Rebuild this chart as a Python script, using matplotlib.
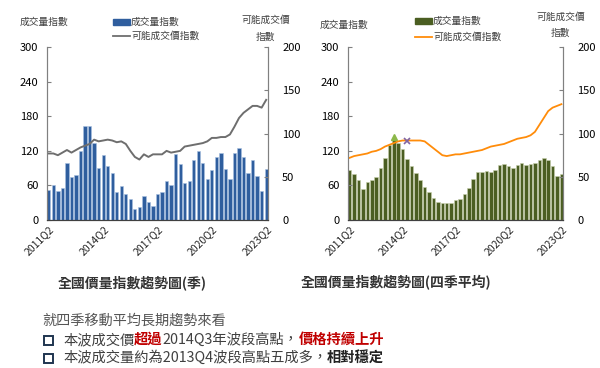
import matplotlib
matplotlib.use('Agg')
import matplotlib.pyplot as plt
import numpy as np

plt.rcParams['font.family'] = ['Noto Sans CJK TC', 'DejaVu Sans']

# quarters 2011Q2 .. 2023Q2
quarters = ['%dQ%d' % (2011 + (i + 1) // 4, (i + 1) % 4 + 1) for i in range(49)]
tick_idx = [0, 12, 24, 36, 48]

# quarterly volume index (left chart)
vol_q = [52, 61, 51, 55, 99, 74, 79, 119, 164, 163, 134, 91, 112, 94, 82, 48, 59,
         46, 36, 20, 23, 42, 32, 24, 46, 49, 67, 60, 115, 97, 65, 67, 104, 119, 99,
         72, 86, 109, 117, 89, 71, 116, 125, 110, 81, 105, 77, 50, 89]
# quarterly possible price index (left chart)
price_q = [77, 77, 75, 78, 81, 78, 81, 84, 86, 88, 93, 91, 92, 93, 92, 90, 91, 88,
           80, 73, 70, 76, 73, 76, 76, 76, 80, 78, 79, 80, 85, 86, 87, 88, 89, 91,
           95, 95, 96, 96, 99, 108, 118, 124, 128, 132, 132, 130, 139]

# four-quarter moving average (right chart)
vol_avg = [86, 80, 70, 54, 66, 69, 75, 91, 107, 130, 139, 134, 123, 106, 94, 82,
           70, 58, 48, 39, 31, 30, 29, 29, 35, 37, 46, 55, 71, 83, 83, 85, 83, 87,
           95, 97, 93, 90, 95, 99, 96, 98, 99, 105, 107, 104, 93, 77, 80]
price_avg = [72, 74, 75, 76, 77, 79, 80, 82, 85, 87, 89, 91, 92, 92, 92, 92, 92,
             91, 87, 83, 79, 75, 74, 75, 76, 76, 77, 78, 79, 80, 81, 83, 85, 86, 87,
             88, 90, 92, 94, 95, 96, 98, 102, 110, 118, 126, 130, 132, 134]
peak_vol = 10     # 2013Q4
peak_price = 13   # 2014Q3

txt = '#404040'
fig = plt.figure(figsize=(6, 3.68), dpi=100)
x = np.arange(len(quarters))


def setup(ax, ax2):
    ax.set_xlim(-0.45, 48.45)
    ax.set_ylim(0, 300)
    ax.set_yticks(range(0, 301, 60))
    ax2.set_ylim(0, 200)
    ax2.set_yticks(range(0, 201, 50))
    ax.set_xticks(tick_idx)
    ax.set_xticklabels([quarters[i] for i in tick_idx], rotation=45, ha='right',
                       va='top', rotation_mode='anchor', fontsize=7.5, color='#262626')
    for a in (ax, ax2):
        a.spines['top'].set_visible(False)
        a.spines['left'].set_color('#808080')
        a.spines['right'].set_color('#808080')
        a.spines['bottom'].set_color('#404040')
        a.tick_params(axis='y', direction='in', length=3, color='#808080',
                      labelsize=8, labelcolor='black', pad=6)
    ax.tick_params(axis='x', direction='in', length=0, pad=3)
    ax2.tick_params(axis='y', pad=10)


# left chart
ax1 = fig.add_axes([0.078, 0.402, 0.369, 0.47])
ax1b = ax1.twinx()
ax1.bar(x, vol_q, width=0.72, color='#2f5e9e', edgecolor='#a9c0e0', linewidth=0.4)
ax1b.plot(x, price_q, color='#6e6e6e', lw=1.4)
setup(ax1, ax1b)

# right chart
ax2 = fig.add_axes([0.5795, 0.402, 0.3595, 0.47])
ax2b = ax2.twinx()
ax2.bar(x, vol_avg, width=0.8, color='#4b5e22', edgecolor='#c9d1ad', linewidth=0.4)
ax2.plot(peak_vol, vol_avg[peak_vol] + 5, marker='^', color='#8cb84a', ms=5)
ax2b.plot(x, price_avg, color='#ff8c0a', lw=1.3)
ax2b.plot(peak_price, price_avg[peak_price], marker='x', color='#8064a2', ms=5, mew=1.2)
setup(ax2, ax2b)

# axis captions and legends
fs = 7
fig.text(44 / 600, 1 - 22 / 368, '成交量指數', fontsize=fs, color=txt, ha='center', va='center')
fig.text(266 / 600, 1 - 20 / 368, '可能成交價', fontsize=fs, color=txt, ha='center', va='center')
fig.text(266 / 600, 1 - 37 / 368, '指數', fontsize=fs, color=txt, ha='center', va='center')
fig.text(344 / 600, 1 - 25 / 368, '成交量指數', fontsize=fs, color=txt, ha='center', va='center')
fig.text(561 / 600, 1 - 17 / 368, '可能成交價', fontsize=fs, color=txt, ha='center', va='center')
fig.text(561 / 600, 1 - 33 / 368, '指數', fontsize=fs, color=txt, ha='center', va='center')

for lx, ly, col, kind, lab in [(113, 22, '#2f5e9e', 'bar', '成交量指數'),
                               (113, 36, '#6e6e6e', 'line', '可能成交價指數'),
                               (415, 21, '#4b5e22', 'bar', '成交量指數'),
                               (415, 37, '#ff8c0a', 'line', '可能成交價指數')]:
    if kind == 'bar':
        fig.patches.append(plt.Rectangle((lx / 600, 1 - (ly + 3) / 368), 17 / 600, 6 / 368,
                                         transform=fig.transFigure, color=col))
    else:
        fig.lines.append(plt.Line2D([lx / 600, (lx + 17) / 600], [1 - ly / 368] * 2,
                                    transform=fig.transFigure, color=col, lw=1.3))
    fig.text((lx + 18) / 600, 1 - ly / 368, lab, fontsize=fs, color=txt, va='center')

# chart titles
fig.text(132 / 600, 1 - 283 / 368, '全國價量指數趨勢圖(季)', fontsize=10,
         fontweight='bold', color='#333333', ha='center', va='center')
fig.text(396 / 600, 1 - 283 / 368, '全國價量指數趨勢圖(四季平均)', fontsize=10,
         fontweight='bold', color='#333333', ha='center', va='center')

# notes below
renderer = fig.canvas.get_renderer()


def rich(x0, y0, parts, size=10.3):
    xx = x0 / 600
    for s, col, w in parts:
        t = fig.text(xx, 1 - y0 / 368, s, fontsize=size, color=col, fontweight=w, va='center')
        xx += t.get_window_extent(renderer).width / fig.bbox.width


red = '#c00000'
fig.text(42 / 600, 1 - 321 / 368, '就四季移動平均長期趨勢來看', fontsize=10.2,
         color='#555555', va='center')
for yy in (340, 358):
    fig.patches.append(plt.Rectangle((44 / 600, 1 - (yy + 4.5) / 368), 9 / 600, 9 / 368,
                                     transform=fig.transFigure, fill=False,
                                     edgecolor='#1f3550', lw=1.4))
rich(63, 340, [('本波成交價', txt, 'normal'), ('超過', red, 'bold'),
               ('2014Q3年波段高點，', txt, 'normal'), ('價格持續上升', red, 'bold')])
rich(63, 358, [('本波成交量約為2013Q4波段高點五成多，', txt, 'normal'),
               ('相對穩定', '#222222', 'bold')])

fig.savefig('out.png', dpi=100)
